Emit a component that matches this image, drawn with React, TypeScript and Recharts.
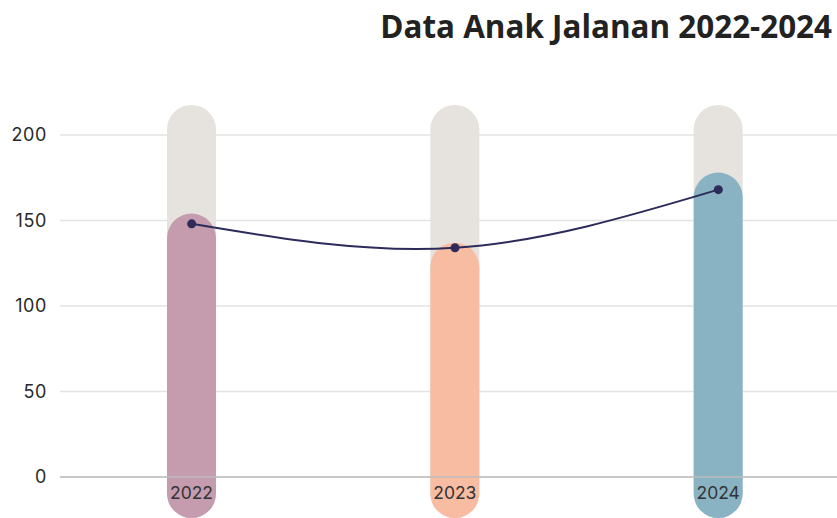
import React from "react";
import {
  ComposedChart,
  Bar,
  Line,
  XAxis,
  YAxis,
  CartesianGrid,
  ReferenceLine,
  Cell,
  LabelList,
} from "recharts";

const years = ["2022", "2023", "2024"];
const barValues = [154, 137, 178];
const lineValues = [148, 134, 168];
const yTicks = [0, 50, 100, 150, 200];
const BAR_FLOOR = -24;

const COLORS = ["#c49cae", "#f8bca3", "#89b3c3"];

const data = years.map((year, i) => ({
  year,
  bar: [BAR_FLOOR, barValues[i]],
  total: lineValues[i],
}));

const tickFont = "Inter, 'Noto Sans', sans-serif";

export default function App() {
  return (
    <div
      style={{
        position: "fixed",
        left: 0,
        top: 0,
        width: 837,
        height: 518,
        overflow: "hidden",
        background: "#fff",
        fontFamily: "'Open Sans', sans-serif",
      }}
    >
      <div
        style={{
          position: "absolute",
          right: 5,
          top: 4,
          fontSize: 31.4,
          fontWeight: 700,
          color: "#222",
          whiteSpace: "nowrap",
        }}
      >
        Data Anak Jalanan 2022-2024
      </div>
      <ComposedChart
        width={850}
        height={518}
        data={data}
        margin={{ top: 105, right: 0, left: 0, bottom: 0 }}
        barSize={49}
      >
        <CartesianGrid
          stroke="#e3e3e3"
          strokeWidth={1.5}
          vertical={false}
          horizontalValues={yTicks}
          syncWithTicks
        />
        <ReferenceLine y={0} stroke="#bdbdbd" strokeWidth={1.5} />
        <XAxis dataKey="year" hide />
        <YAxis
          domain={[BAR_FLOOR, 217.5]}
          ticks={yTicks}
          allowDataOverflow
          width={60}
          axisLine={false}
          tickLine={false}
          tickSize={0}
          tickMargin={13}
          tick={{ fontSize: 18, fill: "#2a2a2a", fontFamily: tickFont, letterSpacing: 0.6 }}
        />
        <Bar
          dataKey="bar"
          radius={24.5}
          background={{ fill: "#e6e3de", radius: 24.5 }}
          isAnimationActive={false}
        >
          {data.map((_, i) => (
            <Cell key={i} fill={COLORS[i]} />
          ))}
          <LabelList
            dataKey="year"
            position="insideBottom"
            offset={19}
            fill="#333"
            fontSize={17.5}
            fontFamily={tickFont}
          />
        </Bar>
        <Line
          type="natural"
          dataKey="total"
          stroke="#2d2b5a"
          strokeWidth={2}
          dot={{ r: 4.5, fill: "#2d2b5a", stroke: "#2d2b5a", strokeWidth: 0 }}
          isAnimationActive={false}
        />
      </ComposedChart>
    </div>
  );
}
